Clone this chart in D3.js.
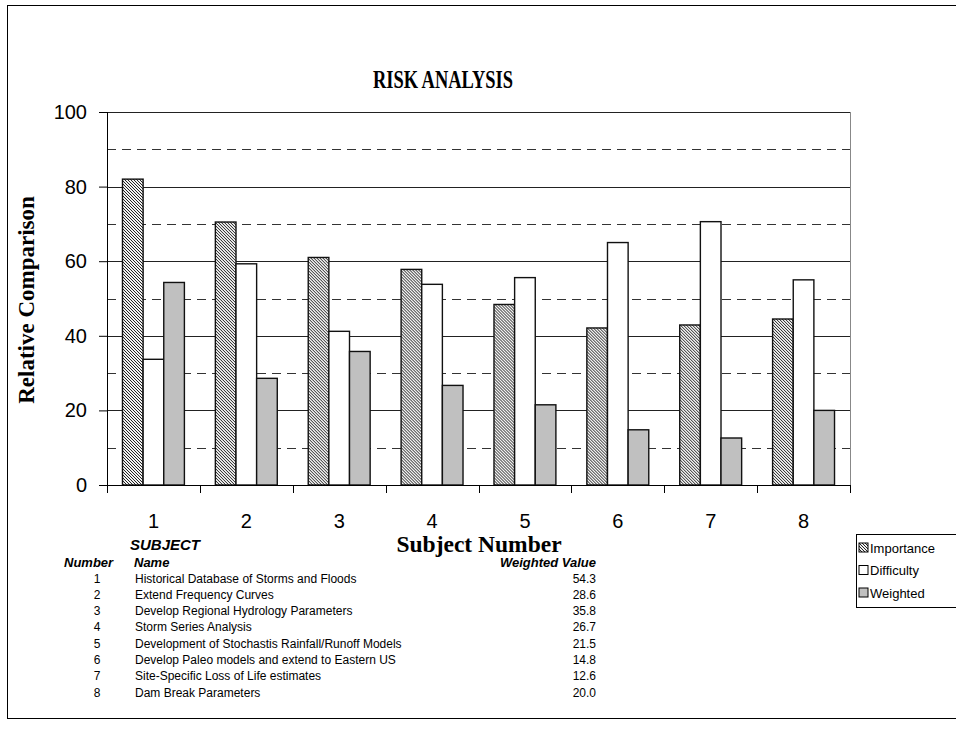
<!DOCTYPE html>
<html>
<head>
<meta charset="utf-8">
<script src="https://cdn.jsdelivr.net/npm/d3@7"></script>
<style>
    body { margin: 0; background: #fff; }
    svg text { fill: #000; }
</style>
</head>
<body>
<svg id="chart" width="956" height="734"></svg>
<script>
'use strict';

let subjects = ["1", "2", "3", "4", "5", "6", "7", "8"],
    seriesNames = ["Importance", "Difficulty", "Weighted"],
    importance = [82, 70.5, 61, 57.8, 48.4, 42.1, 42.9, 44.5],
    difficulty = [33.7, 59.3, 41.2, 53.8, 55.6, 65, 70.6, 55],
    weighted = [54.3, 28.6, 35.8, 26.7, 21.5, 14.8, 12.6, 20.0],
    yTicks = [0, 20, 40, 60, 80, 100],
    yMinor = [10, 30, 50, 70, 90],
    subjectNames = [
        "Historical Database of Storms and Floods",
        "Extend Frequency Curves",
        "Develop Regional Hydrology Parameters",
        "Storm Series Analysis",
        "Development of Stochastis Rainfall/Runoff Models",
        "Develop Paleo models and extend to Eastern US",
        "Site-Specific Loss of Life estimates",
        "Dam Break Parameters"
    ];

let svg = d3.select("#chart");

let defs = svg.append("defs");
let pat = defs.append("pattern")
    .attr("id", "hatch")
    .attr("patternUnits", "userSpaceOnUse")
    .attr("width", 3)
    .attr("height", 3);
pat.append("rect").attr("width", 3).attr("height", 3).attr("fill", "#f0f0f0");
pat.append("path")
    .attr("d", "M-1,-1 L4,4 M-1,2 L1,4 M2,-1 L4,1")
    .attr("stroke", "#222")
    .attr("stroke-width", 1.0);

let fills = ["url(#hatch)", "#ffffff", "#c0c0c0"];

// outer frame
svg.append("rect")
    .attr("x", 7.5).attr("y", 5.5)
    .attr("width", 960).attr("height", 713)
    .attr("fill", "none")
    .attr("stroke", "#000")
    .attr("stroke-width", 1);

let plotLeft = 107, plotRight = 850, plotTop = 112, plotBottom = 485;

let x0 = d3.scaleBand().domain(subjects).range([plotLeft, plotRight]).paddingInner(0).paddingOuter(0);
let x1 = d3.scaleBand().domain(seriesNames).range([0, x0.bandwidth()]).paddingInner(0).paddingOuter(0.75);
let y = d3.scaleLinear().domain([0, 100]).range([plotBottom, plotTop]);

// gridlines
svg.append("g").selectAll("line")
    .data(yMinor)
    .enter().append("line")
    .attr("x1", plotLeft).attr("x2", plotRight)
    .attr("y1", function(d) { return Math.round(y(d)) + 0.5; })
    .attr("y2", function(d) { return Math.round(y(d)) + 0.5; })
    .attr("stroke", "#333")
    .attr("stroke-dasharray", "9,6");

svg.append("g").selectAll("line")
    .data(yTicks.slice(1))
    .enter().append("line")
    .attr("x1", plotLeft).attr("x2", plotRight)
    .attr("y1", function(d) { return Math.round(y(d)) + 0.5; })
    .attr("y2", function(d) { return Math.round(y(d)) + 0.5; })
    .attr("stroke", "#222");

// plot right edge
svg.append("line")
    .attr("x1", plotRight + 0.5).attr("x2", plotRight + 0.5)
    .attr("y1", plotTop).attr("y2", plotBottom)
    .attr("stroke", "#888");

// bars
let rows = subjects.map(function(s, i) {
    return { s: s, vals: [importance[i], difficulty[i], weighted[i]] };
});

let groups = svg.append("g").selectAll("g")
    .data(rows)
    .enter().append("g")
    .attr("transform", function(d) { return "translate(" + x0(d.s) + ",0)"; });

groups.selectAll("rect")
    .data(function(d) {
        return d.vals.map(function(v, k) { return { k: k, v: v }; });
    })
    .enter().append("rect")
    .attr("x", function(d) { return x1(seriesNames[d.k]); })
    .attr("width", x1.bandwidth())
    .attr("y", function(d) { return y(d.v); })
    .attr("height", function(d) { return y(0) - y(d.v); })
    .attr("fill", function(d) { return fills[d.k]; })
    .attr("stroke", "#111")
    .attr("stroke-width", 1.4);

// y axis
let yAxis = svg.append("g")
    .attr("transform", "translate(" + plotLeft + ",0)")
    .call(d3.axisLeft(y).tickValues(yTicks).tickSize(8).tickPadding(12));
yAxis.selectAll("text").style("font-family", "Arial, 'Liberation Sans', sans-serif").style("font-size", "20px");
yAxis.selectAll("line,path").attr("stroke", "#000");
yAxis.select(".domain").attr("d", "M0.5," + plotTop + "V" + plotBottom);

// x axis
let xAxis = svg.append("g")
    .attr("transform", "translate(0," + plotBottom + ")")
    .call(d3.axisBottom(x0).tickSize(0).tickPadding(29));
xAxis.select(".domain").attr("stroke", "#000");
xAxis.selectAll("text").style("font-family", "Arial, 'Liberation Sans', sans-serif").style("font-size", "20px");

svg.append("g").selectAll("line")
    .data(d3.range(subjects.length + 1))
    .enter().append("line")
    .attr("x1", function(d) { return Math.round(plotLeft + d * x0.bandwidth()) + 0.5; })
    .attr("x2", function(d) { return Math.round(plotLeft + d * x0.bandwidth()) + 0.5; })
    .attr("y1", plotBottom).attr("y2", plotBottom + 8)
    .attr("stroke", "#000");

// titles
svg.append("text")
    .attr("x", 443).attr("y", 88)
    .attr("text-anchor", "middle")
    .attr("textLength", 140)
    .attr("lengthAdjust", "spacingAndGlyphs")
    .style("font-family", "'Liberation Serif', 'Times New Roman', serif")
    .style("font-weight", "bold")
    .style("font-size", "26px")
    .text("RISK ANALYSIS");

svg.append("text")
    .attr("transform", "translate(34,300) rotate(-90)")
    .attr("text-anchor", "middle")
    .style("font-family", "'Liberation Serif', 'Times New Roman', serif")
    .style("font-weight", "bold")
    .style("font-size", "23px")
    .text("Relative Comparison");

svg.append("text")
    .attr("x", 479).attr("y", 552)
    .attr("text-anchor", "middle")
    .style("font-family", "'Liberation Serif', 'Times New Roman', serif")
    .style("font-weight", "bold")
    .style("font-size", "23.5px")
    .text("Subject Number");

// legend
let legend = svg.append("g");
legend.append("rect")
    .attr("x", 856.5).attr("y", 534.5)
    .attr("width", 120).attr("height", 73)
    .attr("fill", "#fff")
    .attr("stroke", "#000");

let items = legend.selectAll("g")
    .data(seriesNames)
    .enter().append("g")
    .attr("transform", function(d, i) { return "translate(859," + (543 + i * 22.5) + ")"; });
items.append("rect")
    .attr("width", 9).attr("height", 9)
    .attr("fill", function(d, i) { return fills[i]; })
    .attr("stroke", "#000");
items.append("text")
    .attr("x", 11).attr("y", 9.5)
    .style("font-family", "Arial, 'Liberation Sans', sans-serif")
    .style("font-size", "13px")
    .text(function(d) { return d; });

// subject table
let tbl = svg.append("g")
    .style("font-family", "Arial, 'Liberation Sans', sans-serif")
    .style("font-size", "12px");

let hdr = function(txt, xx, yy, anchor) {
    tbl.append("text")
        .attr("x", xx).attr("y", yy)
        .attr("text-anchor", anchor)
        .style("font-weight", "bold")
        .style("font-style", "italic")
        .style("font-size", "13px")
        .text(txt);
};
tbl.append("text")
    .attr("x", 130).attr("y", 550)
    .style("font-weight", "bold")
    .style("font-style", "italic")
    .style("font-size", "15px")
    .text("SUBJECT");
hdr("Number", 64, 567, "start");
hdr("Name", 134, 567, "start");
hdr("Weighted Value", 596, 567, "end");

let tRows = tbl.selectAll("g.row")
    .data(subjects)
    .enter().append("g")
    .attr("class", "row")
    .attr("transform", function(d, i) { return "translate(0," + (582.5 + i * 16.3) + ")"; });
tRows.append("text")
    .attr("x", 97).attr("text-anchor", "middle")
    .text(function(d) { return d; });
tRows.append("text")
    .attr("x", 135)
    .text(function(d, i) { return subjectNames[i]; });
tRows.append("text")
    .attr("x", 596).attr("text-anchor", "end")
    .text(function(d, i) { return weighted[i].toFixed(1); });
</script>
</body>
</html>
